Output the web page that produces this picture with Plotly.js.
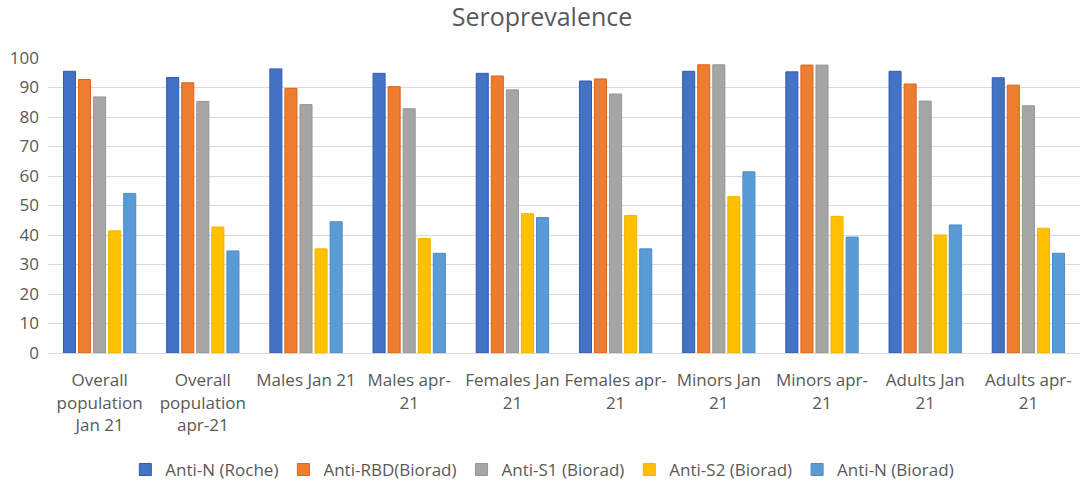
<!DOCTYPE html>
<html>
<head>
<meta charset="utf-8">
<script src="https://cdn.plot.ly/plotly-3.0.1.min.js"></script>
<style>
  html, body { margin: 0; padding: 0; background: #fff; }
  #chart { width: 1084px; height: 483px; }
</style>
</head>
<body>
<div id="chart"></div>
<script>
"use strict";

const categories = [
  'Overall<br>population<br>Jan 21',
  'Overall<br>population<br>apr-21',
  'Males Jan 21',
  'Males apr-<br>21',
  'Females Jan<br>21',
  'Females apr-<br>21',
  'Minors Jan<br>21',
  'Minors apr-<br>21',
  'Adults Jan<br>21',
  'Adults apr-<br>21'
];

const seriesNames = ['Anti-N (Roche)', 'Anti-RBD(Biorad)', 'Anti-S1 (Biorad)', 'Anti-S2 (Biorad)', 'Anti-N (Biorad)'];

const antiNRoche   = [95.5, 93.4, 96.3, 94.8, 94.8, 92.2, 95.5, 95.3, 95.5, 93.3];
const antiRBD      = [92.7, 91.6, 89.7, 90.3, 93.9, 92.9, 97.7, 97.6, 91.2, 90.8];
const antiS1       = [86.8, 85.3, 84.2, 82.8, 89.2, 87.8, 97.7, 97.6, 85.4, 83.8];
const antiS2       = [41.4, 42.7, 35.3, 38.8, 47.2, 46.6, 53.0, 46.3, 40.0, 42.3];
const antiNBiorad  = [54.1, 34.6, 44.5, 33.8, 45.9, 35.3, 61.4, 39.3, 43.4, 33.8];

const values = [antiNRoche, antiRBD, antiS1, antiS2, antiNBiorad];
const fills = ['#4472C4', '#ED7D31', '#A5A5A5', '#FFC000', '#5B9BD5'];
const edges = ['#2F5CB0', '#D9651A', '#969696', '#F0B400', '#4A8BC8'];

const textColor = '#595959';
const fontFamily = '"Open Sans", "Noto Sans", sans-serif';

let data = [];
values.forEach((v, i) => {
  data.push({
    type: 'bar',
    name: seriesNames[i],
    x: categories,
    y: v,
    marker: { color: fills[i], line: { color: edges[i], width: 1 } },
    hoverinfo: 'y+name'
  });
});

const layout = {
  width: 1084,
  height: 483,
  margin: { l: 48, r: 4, t: 58, b: 130 },
  paper_bgcolor: '#fff',
  plot_bgcolor: '#fff',
  font: { family: fontFamily, color: textColor, size: 17 },
  title: {
    text: 'Seroprevalence',
    font: { family: fontFamily, size: 25, color: textColor },
    x: 0.5,
    xanchor: 'center',
    y: 0.965,
    yanchor: 'middle'
  },
  barmode: 'group',
  bargap: 0.27,
  bargroupgap: 0.2,
  xaxis: {
    type: 'category',
    tickfont: { size: 17, color: textColor },
    showgrid: false,
    showline: true,
    linecolor: '#D9D9D9',
    linewidth: 1,
    ticks: '',
    tickangle: 0,
    ticklabelstandoff: 12,
    automargin: false
  },
  yaxis: {
    range: [0, 100],
    dtick: 10,
    tick0: 0,
    showgrid: true,
    gridcolor: '#D9D9D9',
    gridwidth: 1,
    zeroline: false,
    showline: false,
    ticks: '',
    ticklabelstandoff: 8,
    tickfont: { size: 17, color: textColor },
    automargin: false
  },
  showlegend: true,
  legend: {
    orientation: 'h',
    x: 0.479,
    xanchor: 'center',
    yref: 'container',
    y: 0.027,
    yanchor: 'middle',
    font: { size: 17, color: textColor },
    itemwidth: 30,
    traceorder: 'normal'
  }
};

Plotly.newPlot('chart', data, layout, { displayModeBar: false, staticPlot: true });
</script>
</body>
</html>
